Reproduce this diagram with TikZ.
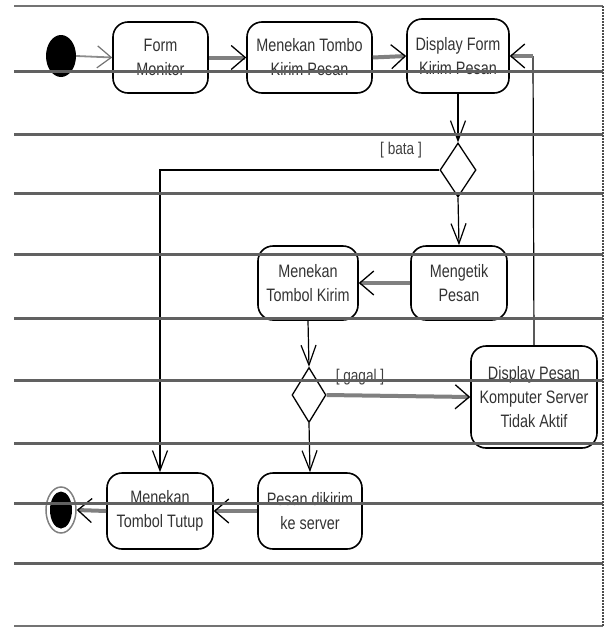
\documentclass[tikz,border=0pt]{standalone}
\usepackage{fontspec}
\setmainfont{Liberation Sans}
\newfontfamily\dfont[FakeStretch=0.80]{Liberation Sans}
\usetikzlibrary{arrows.meta,shapes.geometric}
\begin{document}
\begin{tikzpicture}[x=1pt,y=-1pt,
  act/.style={draw=black, line width=1.6pt, rounded corners=15pt, align=center,
    font=\dfont\fontsize{18}{24}\selectfont, text=black!80, inner sep=0pt},
  lbl/.style={font=\dfont\fontsize{17}{20}\selectfont, text=black!75, inner sep=0pt},
  dec/.style={diamond, draw=black, line width=1.3pt, inner sep=0pt, aspect=0.66},
  conn/.style={draw=black, line width=1.2pt,
    -{Straight Barb[length=20pt,width=15pt,line width=1.2pt]}},
  plain/.style={draw=black, line width=1.2pt},
  band/.style={draw=black!50, line width=4pt,
    -{Straight Barb[length=14pt,width=24pt,line width=1.3pt,color=black]}},
  startarr/.style={draw=black!45, line width=1.8pt,
    -{Straight Barb[length=14pt,width=22pt,line width=1.2pt,color=black!55]}},
  grid/.style={draw=black!62, line width=3pt},
  gridthin/.style={draw=black!55, line width=2pt}
]
\useasboundingbox (0,0) rectangle (608,635);

% initial / final
\node[ellipse, fill=black, minimum width=30pt, minimum height=42pt, inner sep=0pt] (start) at (61,56) {};
\node[ellipse, draw=black!50, line width=1.5pt, minimum width=30pt, minimum height=46pt, inner sep=0pt] (end) at (61,510) {};
\node[ellipse, fill=black, minimum width=22pt, minimum height=37pt, inner sep=0pt] (endin) at (61,510) {};

% activities
\node[act, minimum width=95pt, minimum height=71pt] (form) at (160.5,57.5) {Form\\Monitor};
\node[act, minimum width=125pt, minimum height=71pt] (tombo) at (309.5,57.5) {Menekan Tombo\\Kirim Pesan};
\node[act, minimum width=102pt, minimum height=74pt] (dform) at (458,56) {Display Form\\Kirim Pesan};
\node[act, minimum width=96pt, minimum height=74pt] (ketik) at (459,283) {Mengetik\\Pesan};
\node[act, minimum width=100pt, minimum height=74pt] (kirim) at (308,283) {Menekan\\Tombol Kirim};
\node[act, minimum width=126pt, minimum height=102pt] (dpesan) at (534,397) {Display Pesan\\Komputer Server\\Tidak Aktif};
\node[act, minimum width=104pt, minimum height=76pt] (pesan) at (310,511) {Pesan dikirim\\ke server};
\node[act, minimum width=106pt, minimum height=76pt] (tutup) at (160,511) {Menekan\\Tombol Tutup};

% decisions
\node[dec, minimum width=36pt, minimum height=54pt] (d1) at (458,170) {};
\node[dec, minimum width=34pt, minimum height=55pt] (d2) at (309,395) {};

% guards
\node[lbl] (bata) at (401,150) {[ bata ]};
\node[lbl] (gagal) at (360,377) {[ gagal ]};

% connectors
\draw[startarr] (start.east) -- (form.west);
\draw[band] (form.east) -- (tombo.west);
\draw[band] (tombo.east) -- (dform.west);
\draw[conn] (dform.south) -- (d1.north);
\draw[conn] (d1.west) -| (tutup.north);
\draw[conn] (d1.south) -- (ketik.north);
\draw[band] (ketik.west) -- (kirim.east);
\draw[conn] (kirim.south) -- (d2.north);
\draw[band] (d2.east) -- (dpesan.west);
\draw[conn] (d2.south) -- (pesan.north);
\draw[band] (pesan.west) -- (tutup.east);
\draw[band] (tutup.west) -- (end.east);
\coordinate (ret) at (533,56);
\draw[plain] (dpesan.north) -- (ret);
\draw[band] (ret) -- (dform.east);

% ruled lines on top
\draw[gridthin] (14,6) -- (603,6);
\foreach \yy in {71,134,193,254,318,380,443,503,563}
  \draw[grid] (14,\yy) -- (603,\yy);
\draw[gridthin] (14,626) -- (603,626);
\draw[draw=black!70, line width=1.2pt, dash pattern=on 1.5pt off 1.5pt] (603,6) -- (603,626);
\end{tikzpicture}
\end{document}
